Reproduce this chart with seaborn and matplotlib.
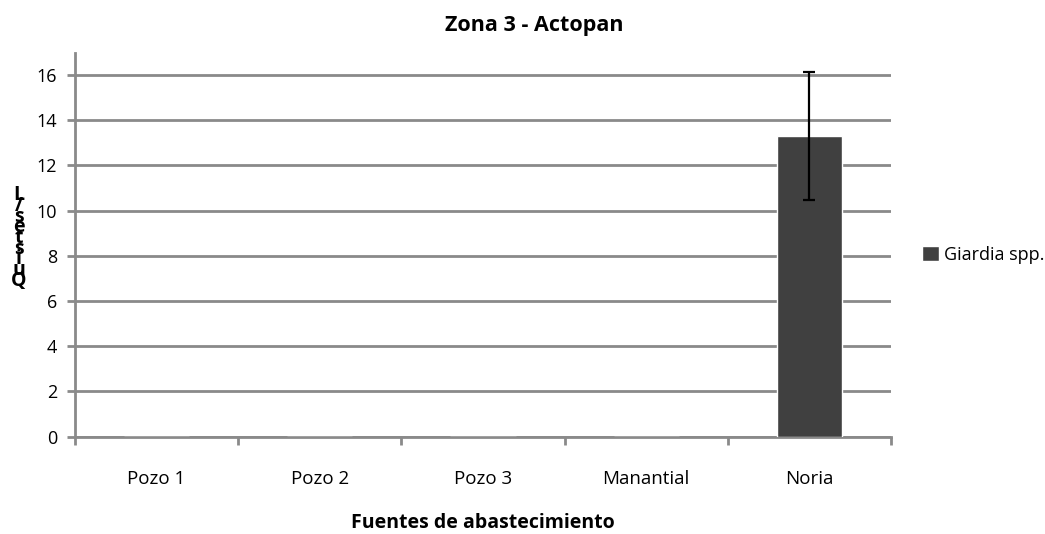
import matplotlib
matplotlib.use("Agg")
import matplotlib.pyplot as plt
import seaborn as sns
import pandas as pd
import numpy as np

categories = ["Pozo 1", "Pozo 2", "Pozo 3", "Manantial", "Noria"]
values = [0, 0, 0, 0, 13.3]
errors = [0, 0, 0, 0, 2.85]
series_name = "Giardia spp."
yticks = [0, 2, 4, 6, 8, 10, 12, 14, 16]

sns.set_theme(style="white")
plt.rcParams['font.family'] = ['Open Sans', 'DejaVu Sans']
plt.rcParams['text.color'] = 'black'
plt.rcParams['xtick.labelcolor'] = 'black'
plt.rcParams['ytick.labelcolor'] = 'black'
plt.rcParams['axes.labelcolor'] = 'black'

df = pd.DataFrame({"Fuente": categories, "Valor": values, "Serie": series_name})

fig = plt.figure(figsize=(10.45, 5.34), dpi=100)
ax = fig.add_axes([75/1045, (534-436.5)/534, (891-75)/1045, (436.5-53)/534])

sns.barplot(data=df, x="Fuente", y="Valor", hue="Serie", palette=["#404040"],
            width=0.4, ax=ax, errorbar=None, zorder=3)

xpos = np.arange(len(categories))
for x, v, e in zip(xpos, values, errors):
    if e > 0:
        ax.errorbar(x, v, yerr=e, fmt='none', ecolor='black', elinewidth=1.6,
                    capsize=4.5, capthick=1.6, zorder=4)

ax.set_xlim(-0.5, len(categories) - 0.5)
ax.set_ylim(0, 16.97)
ax.set_yticks(yticks)
ax.set_yticklabels([str(t) for t in yticks], fontsize=13)
ax.yaxis.grid(True, color="#8a8a8a", linewidth=2, zorder=0)
ax.set_axisbelow(True)

ax.set_xticks(xpos)
ax.set_xticklabels(categories, fontsize=13.5)
ax.tick_params(axis='x', which='major', length=0, pad=24)
ax.set_xticks(np.arange(-0.5, len(categories)), minor=True)
ax.tick_params(axis='x', which='minor', bottom=True, length=6, width=2,
               color="#8a8a8a", direction='out')
ax.tick_params(axis='y', left=True, length=6, width=2, color="#8a8a8a",
               direction='out', pad=7)

for s in ["top", "right"]:
    ax.spines[s].set_visible(False)
for s in ["left", "bottom"]:
    ax.spines[s].set_color("#8a8a8a")
    ax.spines[s].set_linewidth(2)

ax.set_xlabel("Fuentes de abastecimiento", fontsize=14, fontweight='bold', labelpad=18,
              color='black')
ax.set_ylabel("")
ax.set_title("Zona 3 - Actopan", fontsize=15.5, fontweight='bold', pad=16, color='black',
             x=(534 - 75) / 816)

# stacked (garbled) y label as in reference
fig.text(19/1045, 1 - 238/534, "L\n/\ns\ne\nt\ns\ni\nu\nQ", ha='center', va='center',
         fontsize=14, fontweight='bold', linespacing=0.38, color='black')

handles, labels = ax.get_legend_handles_labels()
ax.legend(handles, labels, loc='center left', bbox_to_anchor=(906/1045, 1 - 255/534),
          bbox_transform=fig.transFigure, frameon=False, fontsize=13,
          handlelength=0.9, handleheight=0.9, handletextpad=0.3)

fig.savefig("out.png", dpi=100)
